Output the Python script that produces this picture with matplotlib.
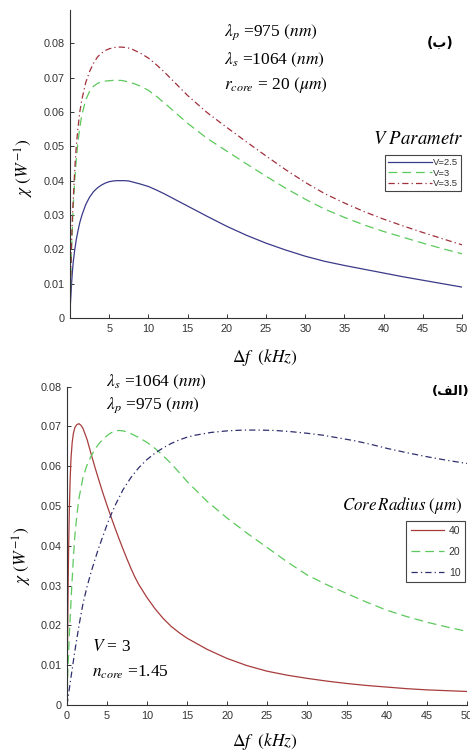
import matplotlib
matplotlib.use("Agg")
import matplotlib.pyplot as plt

plt.rcParams['mathtext.fontset'] = 'stix'
plt.rcParams['font.family'] = ['Liberation Sans', 'DejaVu Sans']

# ---------------- data: top panel (ب) : V parameter, r_core = 20 um ----------------
top_x = [0, 0.05, 0.1, 0.2, 0.3, 0.4, 0.6, 0.8, 1, 1.25, 1.5, 2, 2.5, 3, 3.5, 4, 4.5, 5, 5.5, 6, 6.5,
         7, 7.5, 8, 9, 10, 11, 12, 13, 14, 15, 17.5, 20, 22.5, 25, 27.5, 30, 32.5, 35, 37.5, 40,
         42.5, 45, 47.5, 50]
top_v25 = [0, 0.004, 0.006, 0.010, 0.0133, 0.016, 0.0198, 0.0228, 0.0252, 0.0278, 0.0298, 0.0330,
           0.0352, 0.0368, 0.0379, 0.0387, 0.0393, 0.0397, 0.0399, 0.0400, 0.0400, 0.0400, 0.0399,
           0.0396, 0.0390, 0.0383, 0.0373, 0.0362, 0.0350, 0.0338, 0.0326, 0.0296, 0.0267, 0.0241,
           0.0218, 0.0198, 0.0180, 0.0165, 0.0153, 0.0142, 0.0131, 0.0120, 0.0110, 0.0100, 0.0090]
top_v3 = [0, 0.007, 0.012, 0.020, 0.026, 0.032, 0.040, 0.046, 0.051, 0.0555, 0.059, 0.0635, 0.0660,
          0.0675, 0.0683, 0.0688, 0.0690, 0.0691, 0.0692, 0.0692, 0.0692, 0.0690, 0.0687, 0.0684,
          0.0675, 0.0663, 0.0646, 0.0627, 0.0607, 0.0587, 0.0567, 0.0523, 0.0486, 0.0449, 0.0413,
          0.0378, 0.0346, 0.0317, 0.0293, 0.0271, 0.0252, 0.0235, 0.0218, 0.0202, 0.0187]
top_v35 = [0, 0.008, 0.013, 0.022, 0.029, 0.034, 0.043, 0.050, 0.055, 0.060, 0.0635, 0.0685, 0.0718,
           0.0742, 0.0760, 0.0771, 0.0779, 0.0784, 0.0787, 0.0789, 0.0789, 0.0788, 0.0786, 0.0782,
           0.0771, 0.0757, 0.0738, 0.0717, 0.0694, 0.0671, 0.0648, 0.0598, 0.0555, 0.0513, 0.0472,
           0.0432, 0.0395, 0.0362, 0.0335, 0.0310, 0.0288, 0.0268, 0.0249, 0.0231, 0.0213]
top_labels = ['V=2.5', 'V=3', 'V=3.5']

# ---------------- data: bottom panel (الف) : core radius, V = 3 ----------------
bot_x40 = [0, 0.05, 0.1, 0.15, 0.2, 0.3, 0.4, 0.5, 0.65, 0.8, 1, 1.25, 1.5, 1.75, 2, 2.5, 3, 3.5, 4,
           4.5, 5, 5.5, 6, 6.5, 7, 7.5, 8, 8.5, 9, 10, 11, 12, 13, 14, 15, 17.5, 20, 22.5, 25, 27.5,
           30, 32.5, 35, 37.5, 40, 42.5, 45, 47.5, 50]
bot_r40 = [0, 0.012, 0.022, 0.031, 0.039, 0.050, 0.057, 0.062, 0.066, 0.0683, 0.0698, 0.0705, 0.0707,
           0.0703, 0.0695, 0.0668, 0.0632, 0.0597, 0.0564, 0.0532, 0.0502, 0.0473, 0.0445, 0.0418,
           0.0392, 0.0367, 0.0343, 0.0321, 0.0302, 0.0270, 0.0242, 0.0218, 0.0198, 0.0182, 0.0168,
           0.0140, 0.0117, 0.0099, 0.0085, 0.0075, 0.0067, 0.0060, 0.0054, 0.0049, 0.0045, 0.0041,
           0.0038, 0.0036, 0.0034]
bot_x20 = [0, 0.1, 0.2, 0.3, 0.4, 0.6, 0.8, 1, 1.25, 1.5, 2, 2.5, 3, 3.5, 4, 4.5, 5, 5.5, 6, 6.5, 7,
           7.5, 8, 9, 10, 11, 12, 13, 14, 15, 17.5, 20, 22.5, 25, 27.5, 30, 32.5, 35, 37.5, 40, 42.5,
           45, 47.5, 50]
bot_r20 = [0, 0.008, 0.013, 0.018, 0.022, 0.030, 0.037, 0.043, 0.048, 0.052, 0.0572, 0.0603, 0.0625,
           0.0643, 0.0657, 0.0668, 0.0677, 0.0684, 0.0689, 0.0690, 0.0689, 0.0686, 0.0682, 0.0672,
           0.0660, 0.0645, 0.0627, 0.0607, 0.0585, 0.0562, 0.0512, 0.0470, 0.0432, 0.0396, 0.0360,
           0.0327, 0.0302, 0.0280, 0.0258, 0.0238, 0.0222, 0.0208, 0.0196, 0.0185]
bot_x10 = [0, 0.5, 1, 1.5, 2, 2.5, 3, 3.5, 4, 4.5, 5, 5.5, 6, 7, 8, 9, 10, 11, 12, 13, 14, 15, 16, 18,
           20, 22, 24, 26, 28, 30, 32, 34, 36, 38, 40, 42.5, 45, 47.5, 50]
bot_r10 = [0, 0.007, 0.0138, 0.020, 0.0255, 0.0297, 0.0333, 0.0366, 0.0397, 0.0425, 0.0453, 0.0478,
           0.0501, 0.0541, 0.0572, 0.0597, 0.0617, 0.0633, 0.0646, 0.0657, 0.0666, 0.0673, 0.0678,
           0.0685, 0.0689, 0.0691, 0.0691, 0.0690, 0.0687, 0.0683, 0.0678, 0.0671, 0.0664, 0.0655,
           0.0645, 0.0634, 0.0624, 0.0615, 0.0607]
bot_labels = ['40', '20', '10']

W, H = 470, 751
fig = plt.figure(figsize=(W / 100, H / 100), dpi=100)


def fx(px):
    return px / W


def fy(py):
    return 1 - py / H


def rect(l, t, r, b):
    return [fx(l), fy(b), fx(r) - fx(l), fy(t) - fy(b)]


def style_axes(ax):
    for s in ['top', 'right']:
        ax.spines[s].set_visible(False)
    for s in ['left', 'bottom']:
        ax.spines[s].set_color('#333333')
        ax.spines[s].set_linewidth(0.8)
    ax.tick_params(direction='in', length=3, width=0.7, colors='#333333',
                   labelsize=7.8, labelcolor='#333333', pad=4)


SERIF = ['Liberation Serif', 'DejaVu Serif']
yt = [0, 0.01, 0.02, 0.03, 0.04, 0.05, 0.06, 0.07, 0.08]
ytl = ['0', '0.01', '0.02', '0.03', '0.04', '0.05', '0.06', '0.07', '0.08']
ANN = 12.5

# ---------------- top axes ----------------
ax1 = fig.add_axes(rect(70, 10, 462, 318))
l1, = ax1.plot(top_x, top_v25, color='#3a3a8a', lw=0.9, ls='-')
l2, = ax1.plot(top_x, top_v3, color='#5cc95c', lw=0.9, dashes=(7, 4))
l3, = ax1.plot(top_x, top_v35, color='#a0303c', lw=0.9, dashes=(5, 2.5, 1, 2.5))
ax1.set_xlim(0, 50)
ax1.set_ylim(0, 0.0897)
ax1.set_xticks([5, 10, 15, 20, 25, 30, 35, 40, 45, 50])
ax1.set_yticks(yt)
ax1.set_yticklabels(ytl)
style_axes(ax1)
leg1 = ax1.legend([l1, l2, l3], top_labels, loc='upper left',
                  bbox_to_anchor=(fx(385), fy(155)), bbox_transform=fig.transFigure,
                  fontsize=6.8, frameon=True, fancybox=False, framealpha=1,
                  edgecolor='#444444', borderpad=0.35, labelspacing=0.15,
                  handlelength=4.6, handletextpad=0.1, borderaxespad=0)
leg1.get_frame().set_linewidth(0.8)
for t in leg1.get_texts():
    t.set_color('#333333')

fig.text(fx(373), fy(140), r'$V\ Parametr$', fontsize=13.5, ha='left', va='center')
fig.text(fx(224), fy(32), r'$\lambda_p$ =975 $(nm)$', fontsize=ANN, ha='left', va='center', family=SERIF)
fig.text(fx(224), fy(60), r'$\lambda_s$ =1064 $(nm)$', fontsize=ANN, ha='left', va='center', family=SERIF)
fig.text(fx(224), fy(85), r'$r_{core}$ = 20 $(\mu m)$', fontsize=ANN, ha='left', va='center', family=SERIF)
fig.text(fx(440), fy(43), '(ب)', fontsize=10, fontweight='bold', ha='center', va='center',
         family=['DejaVu Sans'])
fig.text(fx(265), fy(357), r'$\Delta f\ \ (kHz)$', fontsize=12.5, ha='center', va='center')
fig.text(fx(24), fy(168), r'$\chi\ (W^{-1})$', fontsize=12.5, ha='center', va='center', rotation=90)

# ---------------- bottom axes ----------------
ax2 = fig.add_axes(rect(67, 386.7, 467, 705))
m1, = ax2.plot(bot_x40, bot_r40, color='#a83c3c', lw=0.9, ls='-')
m2, = ax2.plot(bot_x20, bot_r20, color='#5cc95c', lw=0.9, dashes=(7, 4))
m3, = ax2.plot(bot_x10, bot_r10, color='#2f2f6e', lw=0.9, dashes=(5, 2.5, 1, 2.5))
ax2.set_xlim(0, 50)
ax2.set_ylim(0, 0.08)
ax2.set_xticks([0, 5, 10, 15, 20, 25, 30, 35, 40, 45, 50])
ax2.set_yticks(yt)
ax2.set_yticklabels(ytl)
style_axes(ax2)
leg2 = ax2.legend([m1, m2, m3], bot_labels, loc='upper left',
                  bbox_to_anchor=(fx(406), fy(521)), bbox_transform=fig.transFigure,
                  fontsize=7.5, frameon=True, fancybox=False, framealpha=1,
                  edgecolor='#444444', borderpad=0.45, labelspacing=1.05,
                  handlelength=3.2, handletextpad=0.45, borderaxespad=0)
leg2.get_frame().set_linewidth(0.8)
for t in leg2.get_texts():
    t.set_color('#333333')

fig.text(fx(342), fy(505), r'$Core\,Radius\ (\mu m)$', fontsize=12.2, ha='left', va='center')
fig.text(fx(106), fy(382), r'$\lambda_s$ =1064 $(nm)$', fontsize=ANN, ha='left', va='center', family=SERIF)
fig.text(fx(106), fy(405), r'$\lambda_p$ =975 $(nm)$', fontsize=ANN, ha='left', va='center', family=SERIF)
fig.text(fx(92), fy(647), r'$V$ = 3', fontsize=ANN, ha='left', va='center', family=SERIF)
fig.text(fx(92), fy(672), r'$n_{core}$ =1.45', fontsize=ANN, ha='left', va='center', family=SERIF)
fig.text(fx(432), fy(391), '(\ufed2\ufedf\u0627)', fontsize=9.5, fontweight='bold', ha='left',
         va='center', family=['DejaVu Sans'])
fig.text(fx(265), fy(742), r'$\Delta f\ \ (kHz)$', fontsize=12.5, ha='center', va='center')
fig.text(fx(22), fy(556), r'$\chi\ (W^{-1})$', fontsize=12.5, ha='center', va='center', rotation=90)

fig.savefig('out.png', dpi=100)
